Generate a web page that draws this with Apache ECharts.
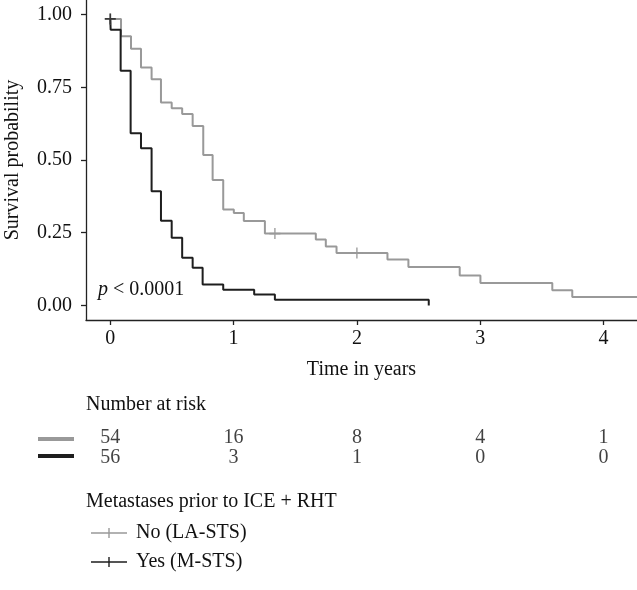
<!DOCTYPE html>
<html>
<head>
<meta charset="utf-8">
<script src="https://cdn.jsdelivr.net/npm/echarts@6/dist/echarts.min.js"></script>
<style>
html,body{margin:0;padding:0;background:#fff;}
#chart{width:637px;height:590px;}
</style>
</head>
<body>
<div id="chart"></div>
<script>
// ---- data ----
// Kaplan-Meier steps: [time in years, survival probability from this time on]
var noLaSts = [
  [0, 0.985], [0.087, 0.925], [0.168, 0.882], [0.249, 0.818], [0.335, 0.778],
  [0.411, 0.698], [0.498, 0.678], [0.583, 0.658], [0.668, 0.617], [0.754, 0.517],
  [0.830, 0.431], [0.916, 0.330], [1.002, 0.318], [1.083, 0.290], [1.254, 0.247],
  [1.667, 0.227], [1.748, 0.203], [1.835, 0.180], [2.248, 0.158], [2.418, 0.132],
  [2.834, 0.103], [3.002, 0.077], [3.585, 0.052], [3.747, 0.029], [4.30, 0.029]
];
var yesMSts = [
  [0, 0.985], [0.003, 0.948], [0.084, 0.807], [0.165, 0.592], [0.249, 0.540],
  [0.335, 0.393], [0.411, 0.291], [0.498, 0.233], [0.583, 0.164], [0.668, 0.130],
  [0.749, 0.072], [0.916, 0.054], [1.167, 0.038], [1.335, 0.020], [2.583, 0.000]
];
var noCensor = [[0, 0.985], [1.335, 0.247], [2.00, 0.180]];
var yesCensor = [[0, 0.985]];
var riskTimes = [0, 1, 2, 3, 4];
var riskNo = [54, 16, 8, 4, 1];
var riskYes = [56, 3, 1, 0, 0];
var yTicks = [0, 0.25, 0.5, 0.75, 1];
var groupNames = ['No (LA-STS)', 'Yes (M-STS)'];

var GRAY = '#999999', DARK = '#1e1e1e';
var FONT = 'Liberation Serif';
var TXT = '#111111';
var FS = 20;
var plusPath = 'path://M-0.75,-5 L0.75,-5 L0.75,-0.75 L5,-0.75 L5,0.75 L0.75,0.75 L0.75,5 L-0.75,5 L-0.75,0.75 L-5,0.75 L-5,-0.75 L-0.75,-0.75 Z';
var legendIcon = 'path://M0,5.3 L36,5.3 L36,6.7 L0,6.7 Z M17.3,1 L18.7,1 L18.7,11 L17.3,11 Z';

var xMin = -0.197, xMax = 4.272;

var chart = echarts.init(document.getElementById('chart'), null, {renderer: 'canvas'});
var option = {
  animation: false,
  backgroundColor: '#fff',
  textStyle: {fontFamily: FONT},
  grid: [
    {left: 86, top: 0, right: 0, height: 320, outerBoundsMode: 'none', containLabel: false},
    {left: 86, right: 0, top: 428, height: 40, outerBoundsMode: 'none', containLabel: false}
  ],
  xAxis: [
    {
      type: 'value', gridIndex: 0, min: xMin, max: xMax,
      name: 'Time in years', nameLocation: 'middle', nameGap: 40,
      nameTextStyle: {fontFamily: FONT, fontSize: FS, color: TXT},
      axisLine: {show: true, onZero: false, lineStyle: {color: '#222', width: 1.3}},
      axisTick: {show: true, length: 5, lineStyle: {color: '#222', width: 1.3}, customValues: riskTimes},
      axisLabel: {fontFamily: FONT, fontSize: FS, color: TXT, margin: 9, customValues: riskTimes},
      splitLine: {show: false}
    },
    {
      type: 'value', gridIndex: 1, min: xMin, max: xMax, show: false
    }
  ],
  yAxis: [
    {
      type: 'value', gridIndex: 0, min: -0.05, max: 1.05,
      name: 'Survival probability', nameLocation: 'middle', nameGap: 63,
      nameTextStyle: {fontFamily: FONT, fontSize: FS, color: TXT},
      axisLine: {show: true, onZero: false, lineStyle: {color: '#222', width: 1.3}},
      axisTick: {show: true, length: 5, lineStyle: {color: '#222', width: 1.3}, customValues: yTicks},
      axisLabel: {fontFamily: FONT, fontSize: FS, color: TXT, margin: 14, customValues: yTicks,
        formatter: function (v) { return v.toFixed(2); }},
      splitLine: {show: false}
    },
    {
      type: 'category', gridIndex: 1, data: ['yes', 'no'], show: false
    }
  ],
  legend: {
    orient: 'vertical', left: 86, top: 518, itemGap: 9,
    itemWidth: 36, itemHeight: 12,
    textStyle: {fontFamily: FONT, fontSize: FS, color: TXT, padding: [0, 0, 0, 4]},
    data: [
      {name: groupNames[0], icon: legendIcon, itemStyle: {color: GRAY}},
      {name: groupNames[1], icon: legendIcon, itemStyle: {color: DARK}}
    ]
  },
  series: [
    {
      name: groupNames[0], type: 'line', step: 'end', data: noLaSts,
      xAxisIndex: 0, yAxisIndex: 0, showSymbol: false, clip: true,
      lineStyle: {color: GRAY, width: 2}, itemStyle: {color: GRAY}, z: 2
    },
    {
      name: groupNames[1], type: 'line', step: 'end', data: yesMSts,
      xAxisIndex: 0, yAxisIndex: 0, showSymbol: false, clip: true,
      lineStyle: {color: DARK, width: 2}, itemStyle: {color: DARK}, z: 3
    },
    {
      name: groupNames[0] + ' censored', type: 'scatter', data: noCensor,
      xAxisIndex: 0, yAxisIndex: 0, symbol: plusPath, symbolSize: 11,
      itemStyle: {color: GRAY}, z: 4
    },
    {
      name: groupNames[1] + ' censored', type: 'scatter', data: yesCensor,
      xAxisIndex: 0, yAxisIndex: 0, symbol: plusPath, symbolSize: 11,
      itemStyle: {color: DARK}, z: 5
    },
    {
      name: 'risk no', type: 'scatter', xAxisIndex: 1, yAxisIndex: 1,
      data: riskTimes.map(function (t, i) { return [t, 'no', riskNo[i]]; }),
      symbolSize: 0,
      label: {show: true, position: 'inside', fontFamily: FONT, fontSize: FS, color: TXT,
        formatter: function (p) { return String(p.value[2]); }}
    },
    {
      name: 'risk yes', type: 'scatter', xAxisIndex: 1, yAxisIndex: 1,
      data: riskTimes.map(function (t, i) { return [t, 'yes', riskYes[i]]; }),
      symbolSize: 0,
      label: {show: true, position: 'inside', fontFamily: FONT, fontSize: FS, color: TXT,
        formatter: function (p) { return String(p.value[2]); }}
    }
  ],
  graphic: [
    {type: 'text', left: 98, top: 280,
      style: {text: '{i|p} < 0.0001', fill: TXT, font: FS + 'px ' + FONT,
        rich: {i: {fontFamily: FONT, fontSize: FS, fontStyle: 'italic', fill: TXT}}}},
    {type: 'text', left: 86, top: 395,
      style: {text: 'Number at risk', fill: TXT, font: FS + 'px ' + FONT}},
    {type: 'rect', shape: {x: 38, y: 437, width: 36, height: 4}, style: {fill: GRAY}},
    {type: 'rect', shape: {x: 38, y: 454, width: 36, height: 4}, style: {fill: DARK}},
    {type: 'text', left: 86, top: 492,
      style: {text: 'Metastases prior to ICE + RHT', fill: TXT, font: FS + 'px ' + FONT}}
  ]
};
chart.setOption(option);
</script>
</body>
</html>
